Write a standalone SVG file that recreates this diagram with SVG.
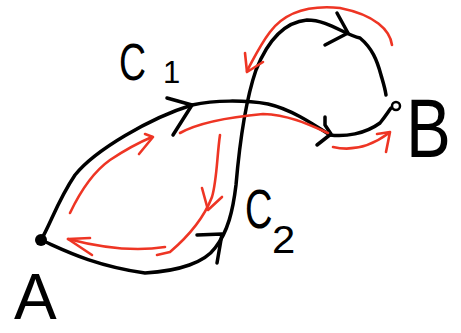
<svg xmlns="http://www.w3.org/2000/svg" width="461" height="333" viewBox="0 0 461 333">
<style>
.blk{fill:none;stroke:#000;stroke-width:3.5;stroke-linecap:round;stroke-linejoin:round}
.red{fill:none;stroke:#ee3524;stroke-width:2.6;stroke-linecap:round;stroke-linejoin:round}
.lbl{font-family:"Liberation Sans",Arial,sans-serif;fill:#000}
</style>
<rect width="461" height="333" fill="#fff"/>
<g id="connectors">
  <g id="c1">
    <path class="blk" d="M41,240 C50,225 58,200 75,175 C95,150 150,118 192,105 C215,100 245,100 268,104 C290,109 310,122 330,135 C345,137 365,134 380,123 C385,117 388,112 391,108"/>
    <path class="blk" d="M167,98 L192,105 L173,135"/>
    <path class="blk" d="M325,117 L325,125 L331,134 L317,145"/>
  </g>
  <g id="c2">
    <path class="blk" d="M41,240 C60,248 90,265 145,273 C180,271 205,262 215,248 C228,232 233,210 236,185 C239,150 244,105 256,70 C268,40 285,22 307,20 C328,20 345,35 360,38 C372,48 377,60 381,75 C383,82 385,88 386,95"/>
    <path class="blk" d="M197,235 L222,234 L217,263"/>
    <path class="blk" d="M337,13 L348,33 L325,45"/>
  </g>
  <g id="flows">
    <path class="red" d="M70,213 C80,192 93,172 110,160 C125,150 140,142 152,137"/>
    <path class="red" d="M145,134 L153,137 L139,154"/>
    <path class="red" d="M180,133 C200,122 230,117 263,114 C290,115 310,125 328,133"/>
    <path class="red" d="M333,147 C350,151 370,147 389,133"/>
    <path class="red" d="M377,134 L390,132 L386,152"/>
    <path class="red" d="M392,45 C390,30 375,15 340,8 C310,5 285,12 270,32 C260,45 253,60 247,71"/>
    <path class="red" d="M245,53 L247,72 L263,62"/>
    <path class="red" d="M220,135 C217,155 217,180 212,197 C205,215 190,235 170,252 L157,255"/>
    <path class="red" d="M202,188 L208,210 L222,197"/>
    <path class="red" d="M165,247 C140,251 110,250 68,239"/>
    <path class="red" d="M90,238 L68,239 L92,255"/>
  </g>
  <g id="label-c1">
    <text class="lbl" font-size="52" transform="translate(119,80) scale(0.72,1)">C</text>
    <text class="lbl" font-size="31" x="163" y="83">1</text>
  </g>
  <g id="label-c2">
    <text class="lbl" font-size="56" transform="translate(245,228) scale(0.68,1)">C</text>
    <text class="lbl" font-size="38" transform="translate(272,253) scale(1.1,1)">2</text>
  </g>
</g>
<g id="node-A">
  <circle cx="41" cy="240" r="6" fill="#000"/>
  <text class="lbl" font-size="64" x="14" y="319">A</text>
</g>
<g id="node-B">
  <circle cx="396" cy="106" r="4" fill="none" stroke="#000" stroke-width="2.5"/>
  <text class="lbl" font-size="84" transform="translate(406,157) scale(0.8,1)">B</text>
</g>
</svg>
